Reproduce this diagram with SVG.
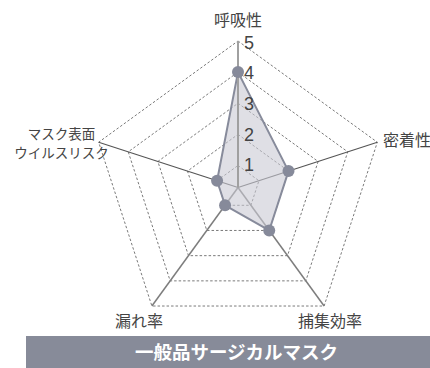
<svg xmlns="http://www.w3.org/2000/svg" width="430" height="368" viewBox="0 0 430 368">
  <style>
    .ring { fill: none; stroke: #7a7a7a; stroke-width: 1; stroke-dasharray: 2.5 2; }
    .lbl { font-family: "Noto Sans CJK JP", "Noto Sans", sans-serif; fill: #444; font-size: 16px; }
    .num { font-family: "Liberation Sans", Arial, sans-serif; fill: #444; font-size: 18px; }
    .pt { fill: #868a9a; }
  </style>
  <rect width="430" height="368" fill="#ffffff"/>
  <g id="grid">
    <polygon class="ring" points="238,165.5 258.92,180.7 250.93,205.3 225.07,205.3 217.08,180.7"/>
    <polygon class="ring" points="238,134.4 288.5,171.09 269.21,230.46 206.79,230.46 187.5,171.09"/>
    <polygon class="ring" points="238,103.25 318.13,161.47 287.52,255.66 188.48,255.66 157.87,161.47"/>
    <polygon class="ring" points="238,72.1 347.75,151.84 305.83,280.86 170.17,280.86 128.25,151.84"/>
    <polygon class="ring" points="238,41 377.33,142.23 324.11,306.02 151.89,306.02 98.67,142.23"/>
  </g>
  <g id="axes">
    <line x1="238" y1="187.5" x2="238" y2="41" stroke="#a0a0a0" stroke-width="2"/>
    <line x1="238" y1="187.5" x2="377.33" y2="142.23" stroke="#555" stroke-width="1.1"/>
    <line x1="238" y1="187.5" x2="98.67" y2="142.23" stroke="#555" stroke-width="1.1"/>
    <line x1="238" y1="187.5" x2="324.11" y2="306.02" stroke="#7d7d7d" stroke-width="1.5"/>
    <line x1="238" y1="187.5" x2="151.89" y2="306.02" stroke="#7d7d7d" stroke-width="1.5"/>
  </g>
  <g id="data">
    <polygon points="238,72.1 288.5,171.09 269.21,230.46 225.07,205.3 217.08,180.7" fill="#c9cad3" fill-opacity="0.6" stroke="#878b9b" stroke-width="2" stroke-linejoin="round"/>
    <line x1="238" y1="187.5" x2="238" y2="72.1" stroke="#a0a0a0" stroke-width="2"/>
    <circle class="pt" cx="238" cy="72.1" r="6"/>
    <circle class="pt" cx="288.5" cy="171.09" r="6"/>
    <circle class="pt" cx="269.21" cy="230.46" r="6"/>
    <circle class="pt" cx="225.07" cy="205.3" r="6"/>
    <circle class="pt" cx="217.08" cy="180.7" r="6"/>
  </g>
  <g id="scale">
    <text class="num" x="244" y="49">5</text>
    <text class="num" x="244" y="79">4</text>
    <text class="num" x="244" y="110">3</text>
    <text class="num" x="244" y="141">2</text>
    <text class="num" x="244" y="171">1</text>
  </g>
  <g id="labels">
    <text class="lbl" x="238" y="26" text-anchor="middle">呼吸性</text>
    <text class="lbl" x="383" y="146">密着性</text>
    <text class="lbl" x="330" y="327" text-anchor="middle">捕集効率</text>
    <text class="lbl" x="139" y="327" text-anchor="middle">漏れ率</text>
    <text class="lbl" x="61.5" y="139" text-anchor="middle" style="font-size:13.5px">マスク表面</text>
    <text class="lbl" x="61.5" y="158" text-anchor="middle" style="font-size:13.5px">ウイルスリスク</text>
  </g>
  <g id="title">
    <rect x="26" y="336" width="404" height="32" fill="#878b99"/>
    <text x="236.5" y="359" text-anchor="middle" font-family="Noto Sans CJK JP, Noto Sans, sans-serif" font-weight="700" font-size="18.5" fill="#ffffff">一般品サージカルマスク</text>
  </g>
</svg>
